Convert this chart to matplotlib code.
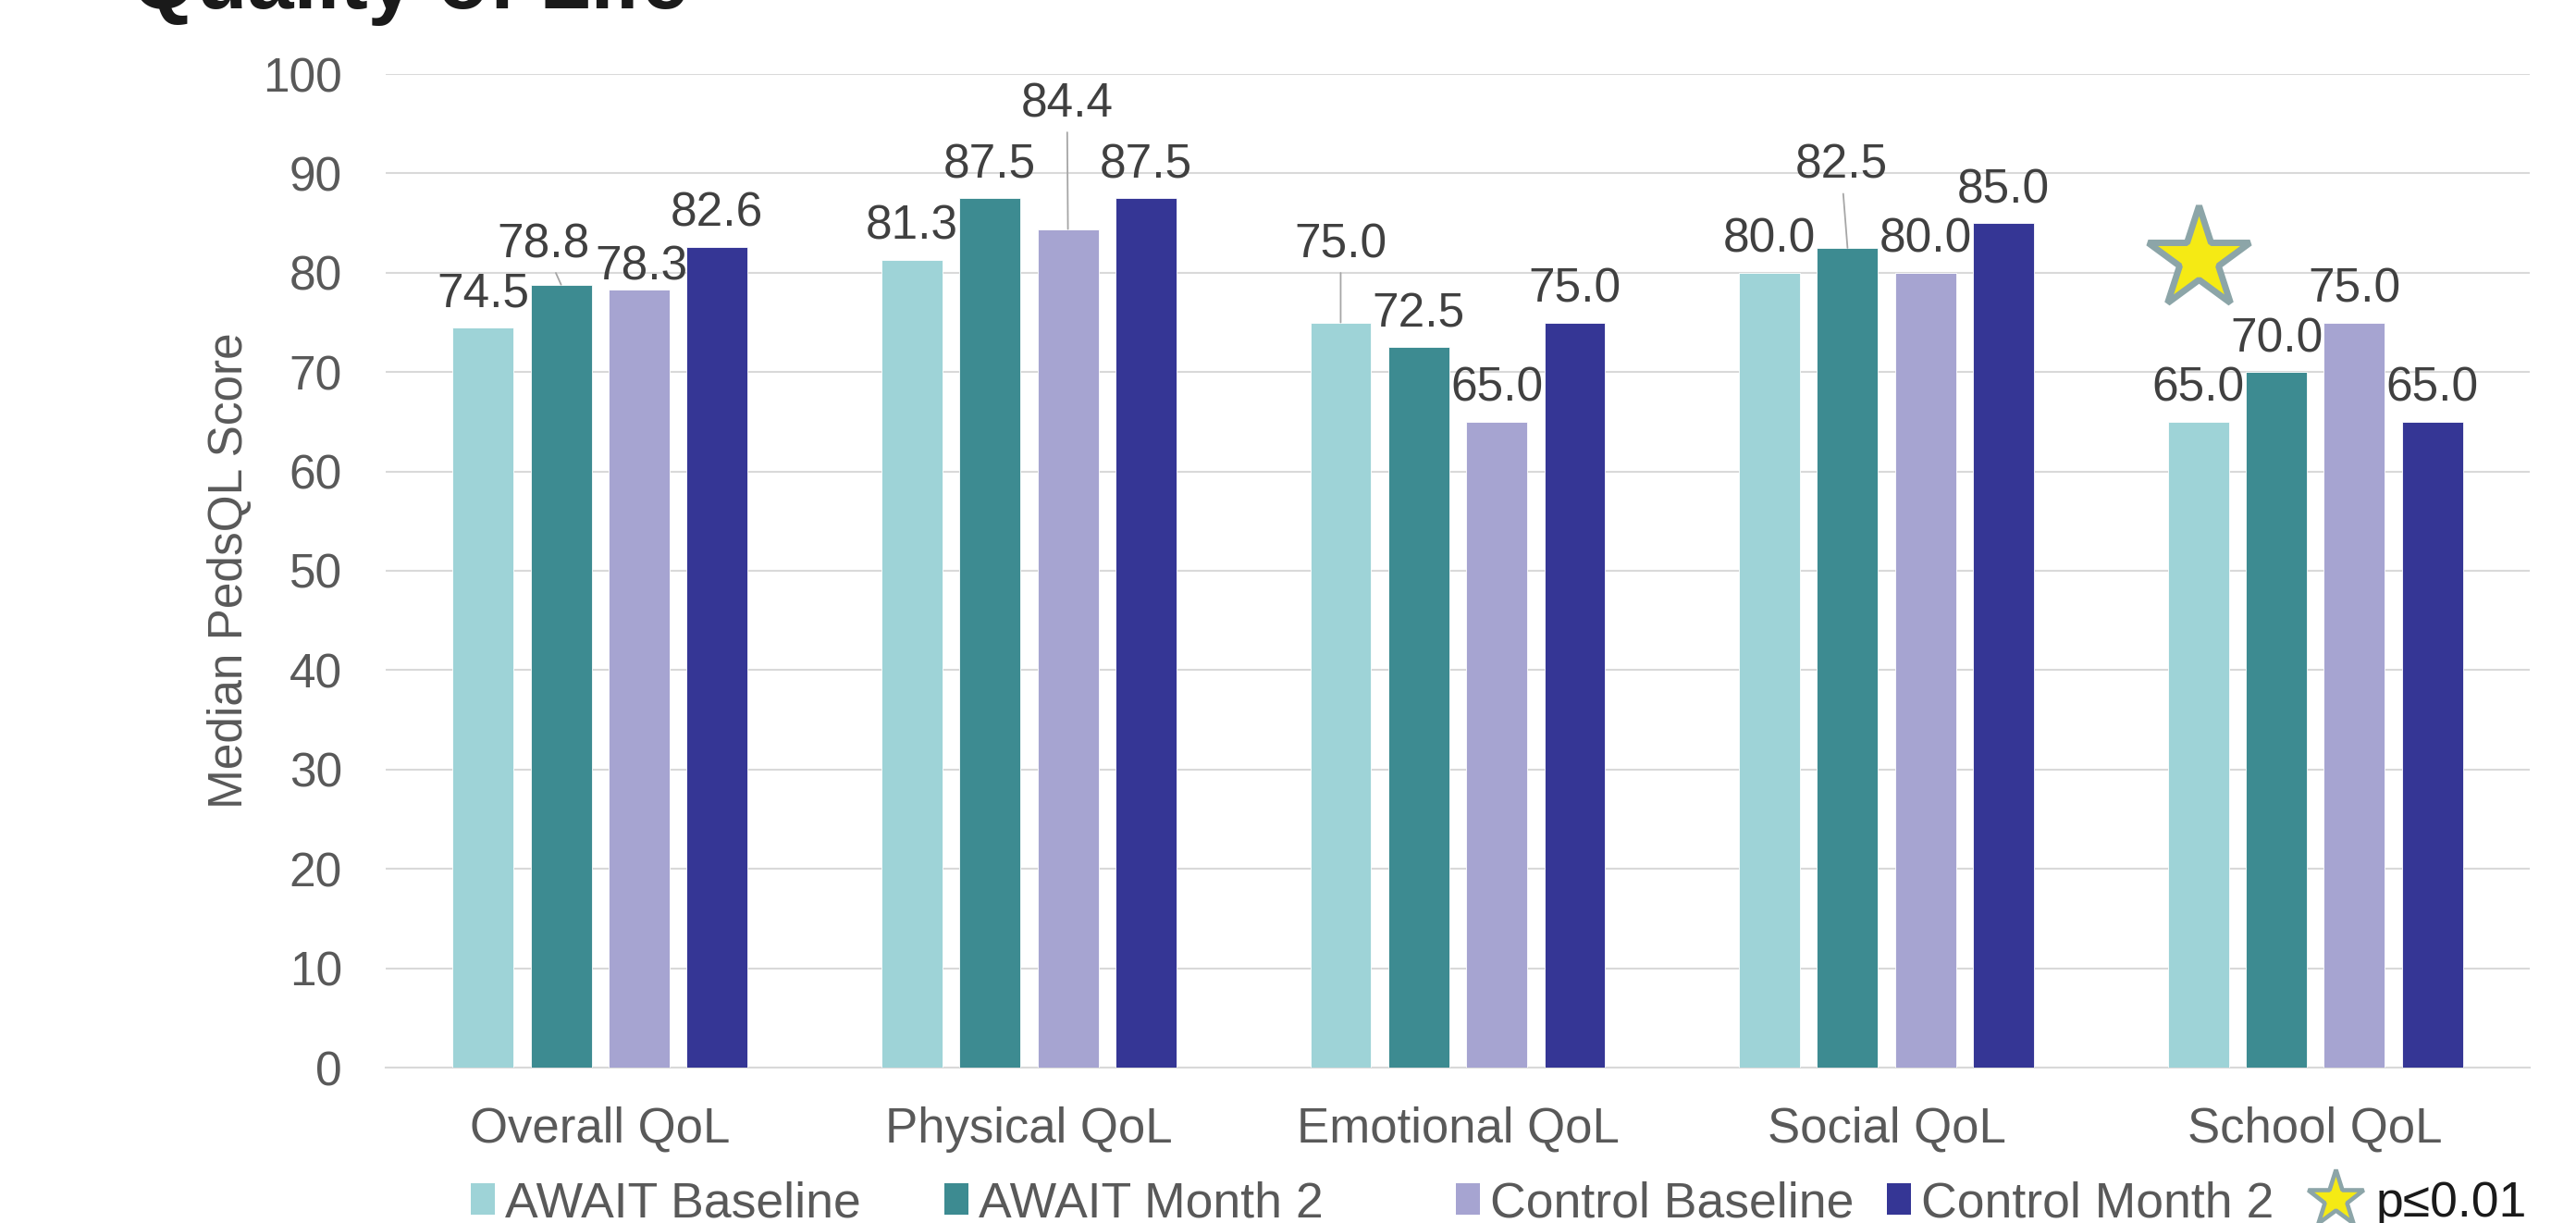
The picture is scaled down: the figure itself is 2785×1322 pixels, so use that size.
import numpy as np
import matplotlib
matplotlib.use("Agg")
import matplotlib.pyplot as plt
from matplotlib.patches import Patch
from matplotlib.lines import Line2D
from matplotlib.transforms import offset_copy

plt.rcParams["font.family"] = ["Liberation Sans", "DejaVu Sans"]

# ---- data -------------------------------------------------------------
categories = ["Overall QoL", "Physical QoL", "Emotional QoL", "Social QoL", "School QoL"]
series_names = ["AWAIT Baseline", "AWAIT Month 2", "Control Baseline", "Control Month 2"]
await_baseline = [74.5, 81.3, 75.0, 80.0, 65.0]
await_month2 = [78.8, 87.5, 72.5, 82.5, 70.0]
control_baseline = [78.3, 84.4, 65.0, 80.0, 75.0]
control_month2 = [82.6, 87.5, 75.0, 85.0, 65.0]
series_values = [await_baseline, await_month2, control_baseline, control_month2]
y_ticks = list(range(0, 101, 10))
significant_category = "School QoL"
significance_label = "p\u22640.01"

# ---- style ------------------------------------------------------------
colors = ["#9ED3D7", "#3D8B91", "#A6A4D1", "#353695"]
label_color = "#404040"
axis_text_color = "#595959"
grid_color = "#D9D9D9"
leader_color = "#A6A6A6"
star_face = "#F5EA14"
star_edge = "#8CA5A8"
bar_width = 0.142
bar_step = 0.182

# label positions (pixel offsets of the text baseline from the bar top)
default_offset = (0, 22)
label_offsets = {
    (1, 0): (-19, 29),
    (2, 0): (2, 11),
    (2, 1): (-1, 121),
    (0, 2): (0, 70),
    (1, 3): (-7, 75),
}
leader_labels = {(1, 0), (2, 1), (0, 2), (1, 3)}

W, H, DPI = 2785, 1322, 100
fig = plt.figure(figsize=(W / DPI, H / DPI), dpi=DPI)
ax_left, ax_right, ax_top, ax_bottom = 417, 2735, 80, 1154
ax = fig.add_axes([ax_left / W, 1 - ax_bottom / H,
                   (ax_right - ax_left) / W, (ax_bottom - ax_top) / H])

x = np.arange(len(categories))
for s, (name, vals, col) in enumerate(zip(series_names, series_values, colors)):
    xs = x + (s - 1.5) * bar_step
    ax.bar(xs, vals, width=bar_width, color=col, label=name, zorder=3,
           edgecolor="white", linewidth=0.6)
    for c, (xi, v) in enumerate(zip(xs, vals)):
        dx, dy = label_offsets.get((s, c), default_offset)
        kw = {}
        if (s, c) in leader_labels:
            kw["arrowprops"] = dict(arrowstyle="-", color=leader_color, lw=1.3,
                                    shrinkA=2, shrinkB=0)
        ax.annotate(f"{v:.1f}", xy=(xi, v), xytext=(dx, dy),
                    textcoords="offset pixels", ha="center", va="baseline",
                    fontsize=37, color=label_color, zorder=5, **kw)

# significance star above the School QoL group
ci = categories.index(significant_category)
star_tr = offset_copy(ax.transData, fig=fig, x=0, y=176, units="dots")
ax.plot([x[ci] - 1.5 * bar_step], [await_baseline[ci]], marker="*",
        markersize=84, markerfacecolor=star_face, markeredgecolor=star_edge,
        markeredgewidth=5, transform=star_tr, zorder=6, clip_on=False)

ax.set_xlim(-0.5, len(categories) - 0.5)
ax.set_ylim(0, 100)
ax.set_yticks(y_ticks)
ax.set_xticks(x)
ax.set_xticklabels(categories)
ax.tick_params(axis="y", length=0, pad=34, labelsize=37, labelcolor=axis_text_color)
ax.tick_params(axis="x", length=0, pad=30, labelsize=38, labelcolor=axis_text_color)
ax.grid(axis="y", color=grid_color, linewidth=1.5, zorder=0)
ax.set_axisbelow(True)
for side in ["top", "right", "left"]:
    ax.spines[side].set_visible(False)
ax.spines["bottom"].set_color(grid_color)
ax.spines["bottom"].set_linewidth(1.5)

fig.text(249 / W, 1 - 617 / H, "Median PedsQL Score", rotation=90,
         ha="center", va="center", fontsize=37, color=axis_text_color)

fig.text(142 / W, 1 - 9 / H, "Quality of Life", ha="left", va="baseline",
         fontsize=65, fontweight="bold", color="#1A1A1A")

# legend row along the bottom edge, one entry per anchor
legend_y = 1 - 1301 / H
legend_x = [509, 1021, 1574, 2040]
for name, col, lx in zip(series_names, colors, legend_x):
    lg = fig.legend([Patch(facecolor=col, edgecolor="none")], [name],
                    loc="center left", bbox_to_anchor=(lx / W, legend_y),
                    frameon=False, fontsize=38.5, handlelength=0.48,
                    handleheight=0.58, handletextpad=0.22, borderpad=0,
                    borderaxespad=0)
    lg.get_texts()[0].set_color(axis_text_color)
star_handle = Line2D([], [], linestyle="none", marker="*", markersize=46,
                     markerfacecolor=star_face, markeredgecolor=star_edge,
                     markeredgewidth=3.3)
lg = fig.legend([star_handle], [significance_label], loc="center left",
                bbox_to_anchor=(2512 / W, legend_y), frameon=False, fontsize=38.5,
                handlelength=0.5, handletextpad=0.55, borderpad=0, borderaxespad=0)
lg.get_texts()[0].set_color("#1A1A1A")

fig.savefig("out.png", dpi=DPI)
